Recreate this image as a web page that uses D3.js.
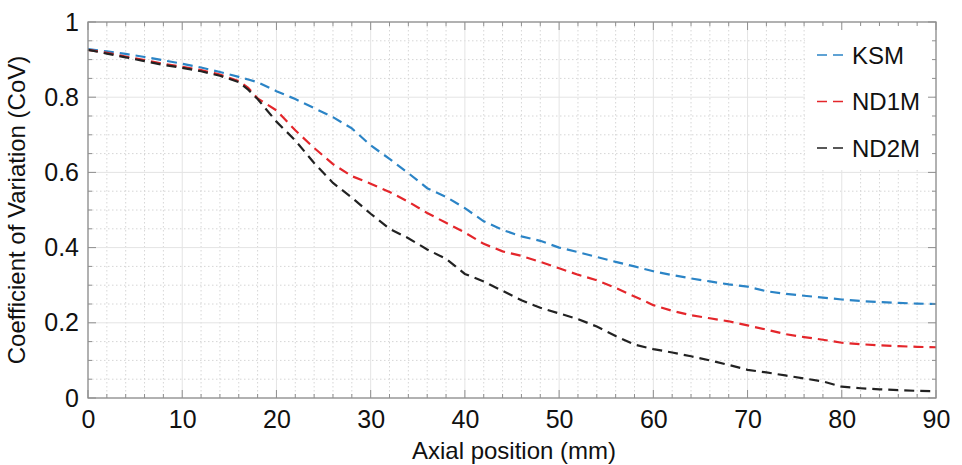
<!DOCTYPE html>
<html>
<head>
<meta charset="utf-8">
<script src="https://cdn.jsdelivr.net/npm/d3@7"></script>
<style>
  body { margin: 0; background: #fff; }
  svg text { font-family: "Liberation Sans", Arial, Helvetica, sans-serif; fill: #111; }
</style>
</head>
<body>
<div id="chart"></div>
<script>
// axial positions (mm)
var positions = [0, 2, 4, 6, 8, 10, 12, 14, 16, 17, 18, 20, 22, 24, 26, 28, 30, 32, 34, 36, 38, 40,
  42, 44, 46, 48, 50, 52, 54, 56, 58, 60, 62, 64, 66, 68, 70, 72, 74, 76, 78, 80, 82, 84, 86, 88, 90];

var ksm = [0.928, 0.922, 0.915, 0.907, 0.898, 0.889, 0.879, 0.867, 0.854, 0.847, 0.840, 0.816, 0.795,
  0.771, 0.747, 0.717, 0.672, 0.636, 0.598, 0.558, 0.535, 0.505, 0.470, 0.447, 0.430, 0.418, 0.400,
  0.388, 0.375, 0.362, 0.350, 0.337, 0.327, 0.318, 0.310, 0.302, 0.296, 0.284, 0.277, 0.272, 0.267,
  0.262, 0.258, 0.255, 0.253, 0.251, 0.250];

var nd1m = [0.926, 0.918, 0.908, 0.899, 0.889, 0.881, 0.872, 0.860, 0.843, 0.825, 0.797, 0.765, 0.712,
  0.665, 0.622, 0.590, 0.570, 0.548, 0.522, 0.492, 0.466, 0.440, 0.410, 0.390, 0.378, 0.362, 0.345,
  0.328, 0.313, 0.293, 0.270, 0.247, 0.232, 0.220, 0.212, 0.204, 0.193, 0.182, 0.170, 0.162, 0.155,
  0.147, 0.143, 0.140, 0.138, 0.136, 0.135];

var nd2m = [0.926, 0.916, 0.906, 0.896, 0.886, 0.878, 0.869, 0.857, 0.840, 0.820, 0.795, 0.735, 0.685,
  0.625, 0.572, 0.533, 0.490, 0.450, 0.425, 0.395, 0.370, 0.330, 0.310, 0.285, 0.260, 0.240, 0.225,
  0.210, 0.190, 0.165, 0.142, 0.130, 0.121, 0.111, 0.100, 0.088, 0.075, 0.068, 0.060, 0.052, 0.044,
  0.030, 0.026, 0.023, 0.021, 0.019, 0.018];

var seriesNames = ['KSM', 'ND1M', 'ND2M'];
var seriesColors = ['#2b84c6', '#e4262b', '#222222'];
var seriesValues = [ksm, nd1m, nd2m];

var xTicks = [0, 10, 20, 30, 40, 50, 60, 70, 80, 90];
var yTicks = [0, 0.2, 0.4, 0.6, 0.8, 1];

var margin = { top: 22, right: 26, bottom: 67, left: 88 };
var totalW = 962, totalH = 465;
var width = totalW - margin.left - margin.right;
var height = totalH - margin.top - margin.bottom;

var x = d3.scaleLinear().domain([0, 90]).range([0, width]);
var y = d3.scaleLinear().domain([0, 1]).range([height, 0]);

var svg = d3.select('#chart').append('svg')
    .attr('width', totalW)
    .attr('height', totalH)
  .append('g')
    .attr('transform', 'translate(' + margin.left + ',' + margin.top + ')');

// minor grid (dotted)
var xMinor = d3.range(0, 91, 2).filter(function (d) { return d % 10 !== 0; });
var yMinor = d3.range(0, 21).map(function (i) { return i * 0.05; })
  .filter(function (d, i) { return i % 4 !== 0; });

svg.append('g').selectAll('line').data(xMinor).enter().append('line')
  .attr('x1', function (d) { return x(d); }).attr('x2', function (d) { return x(d); })
  .attr('y1', 0).attr('y2', height)
  .attr('stroke', '#d6d6d6').attr('stroke-width', 1).attr('stroke-dasharray', '1.5,2.5');
svg.append('g').selectAll('line').data(yMinor).enter().append('line')
  .attr('y1', function (d) { return y(d); }).attr('y2', function (d) { return y(d); })
  .attr('x1', 0).attr('x2', width)
  .attr('stroke', '#d6d6d6').attr('stroke-width', 1).attr('stroke-dasharray', '1.5,2.5');

// major grid
svg.append('g').selectAll('line').data(xTicks).enter().append('line')
  .attr('x1', function (d) { return x(d); }).attr('x2', function (d) { return x(d); })
  .attr('y1', 0).attr('y2', height)
  .attr('stroke', '#e4e4e4').attr('stroke-width', 1);
svg.append('g').selectAll('line').data(yTicks).enter().append('line')
  .attr('y1', function (d) { return y(d); }).attr('y2', function (d) { return y(d); })
  .attr('x1', 0).attr('x2', width)
  .attr('stroke', '#e4e4e4').attr('stroke-width', 1);

// lines
var line = d3.line()
  .x(function (d) { return x(d[0]); })
  .y(function (d) { return y(d[1]); });

seriesValues.forEach(function (vals, i) {
  var pts = positions.map(function (p, j) { return [p, vals[j]]; });
  svg.append('path')
    .attr('d', line(pts))
    .attr('fill', 'none')
    .attr('stroke', seriesColors[i])
    .attr('stroke-width', 2.2)
    .attr('stroke-dasharray', '10,6');
});

// legend (white box over grid)
var legend = svg.append('g').attr('transform', 'translate(' + (width - 131) + ',2)');
legend.append('rect')
  .attr('x', 0).attr('y', 0).attr('width', 129).attr('height', 146)
  .attr('fill', '#fff');
seriesNames.forEach(function (name, i) {
  var ly = 31 + i * 46.5;
  legend.append('line')
    .attr('x1', 12).attr('x2', 39).attr('y1', ly).attr('y2', ly)
    .attr('stroke', seriesColors[i]).attr('stroke-width', 1.6)
    .attr('stroke-dasharray', '10,6');
  legend.append('text')
    .attr('x', 47).attr('y', ly).attr('dy', '0.36em')
    .attr('font-size', '24px')
    .text(name);
});

// axes with inward ticks on all four sides
var axisColor = '#8f8f8f';
function tickLines(g, vals, len, horizontal) {
  vals.forEach(function (v) {
    if (horizontal) {
      g.append('line').attr('x1', x(v)).attr('x2', x(v)).attr('y1', height).attr('y2', height - len)
        .attr('stroke', axisColor);
      g.append('line').attr('x1', x(v)).attr('x2', x(v)).attr('y1', 0).attr('y2', len)
        .attr('stroke', axisColor);
    } else {
      g.append('line').attr('y1', y(v)).attr('y2', y(v)).attr('x1', 0).attr('x2', len)
        .attr('stroke', axisColor);
      g.append('line').attr('y1', y(v)).attr('y2', y(v)).attr('x1', width).attr('x2', width - len)
        .attr('stroke', axisColor);
    }
  });
}
var ticksG = svg.append('g');
tickLines(ticksG, xTicks, 8, true);
tickLines(ticksG, xMinor, 4, true);
tickLines(ticksG, yTicks, 8, false);
tickLines(ticksG, yMinor, 4, false);

svg.append('rect')
  .attr('x', 0).attr('y', 0).attr('width', width).attr('height', height)
  .attr('fill', 'none').attr('stroke', axisColor).attr('stroke-width', 1.3);

// tick labels via d3 axes
var xAxis = d3.axisBottom(x).tickValues(xTicks).tickSize(0).tickPadding(17).tickFormat(d3.format('d'));
var yAxis = d3.axisLeft(y).tickValues(yTicks).tickSize(0).tickPadding(9).tickFormat(function (d) { return d3.format('')(d); });

var gx = svg.append('g').attr('transform', 'translate(0,' + height + ')').call(xAxis);
var gy = svg.append('g').call(yAxis);
[gx, gy].forEach(function (g) {
  g.select('.domain').remove();
  g.selectAll('text').attr('font-size', '25px').attr('fill', '#111')
    .attr('font-family', '"Liberation Sans", Arial, sans-serif');
});
gx.selectAll('text').attr('dy', '0.5em');

// axis titles
svg.append('text')
  .attr('x', width / 2 + 2).attr('y', height + 61)
  .attr('text-anchor', 'middle')
  .attr('font-size', '24px')
  .text('Axial position (mm)');

svg.append('text')
  .attr('transform', 'translate(' + (-63) + ',' + (height / 2) + ') rotate(-90)')
  .attr('text-anchor', 'middle')
  .attr('font-size', '24px')
  .text('Coefficient of Variation (CoV)');
</script>
</body>
</html>
